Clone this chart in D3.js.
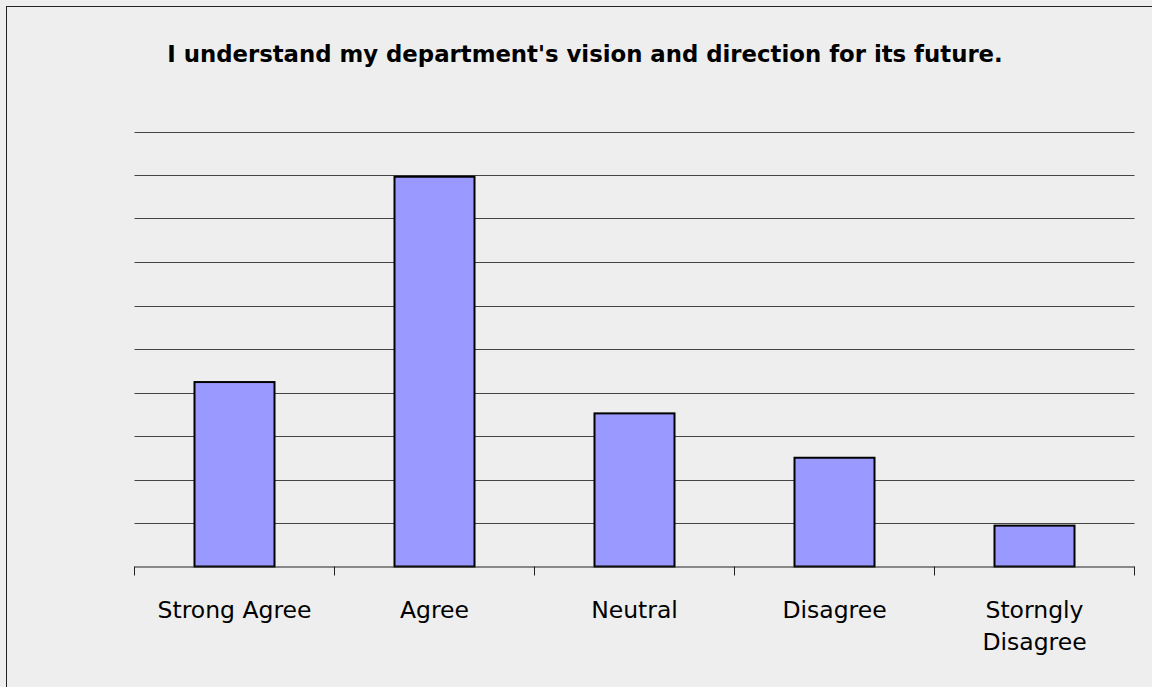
<!doctype html>
<html>
<head>
<meta charset="utf-8">
<title>Department vision</title>
<script src="https://cdn.jsdelivr.net/npm/d3@7"></script>
<style>
  html, body { margin: 0; padding: 0; background: #eeeeee; }
  svg { display: block; }
  text { font-family: "DejaVu Sans", Verdana, sans-serif; fill: #000; }
</style>
</head>
<body>
<div id="chart"></div>
<script>
  // survey answers (percent of responses)
  const categories = ['Strong Agree', 'Agree', 'Neutral', 'Disagree', 'Storngly Disagree'];
  const values = [21.2, 44.8, 17.6, 12.5, 4.7];
  const yTicks = [0, 5, 10, 15, 20, 25, 30, 35, 40, 45, 50];
  const title = "I understand my department's vision and direction for its future.";

  const width = 1152, height = 687;
  const plot = {left: 134.5, right: 1134.5, top: 131.5, bottom: 566.5};

  const svg = d3.select('#chart').append('svg')
    .attr('width', width)
    .attr('height', height);

  // outer frame, runs off the right and bottom edges
  svg.append('rect')
    .attr('x', 6.5).attr('y', 6.5)
    .attr('width', width + 10).attr('height', height + 10)
    .attr('fill', '#eeeeee')
    .attr('stroke', '#222')
    .attr('stroke-width', 1);

  svg.append('text')
    .attr('x', 585)
    .attr('y', 62)
    .attr('text-anchor', 'middle')
    .style('font-weight', 'bold')
    .style('font-size', '22.8px')
    .text(title);

  const x = d3.scaleBand()
    .domain(categories)
    .range([plot.left, plot.right])
    .paddingInner(0.6)
    .paddingOuter(0.3);

  const y = d3.scaleLinear()
    .domain([0, 50])
    .range([plot.bottom, plot.top]);

  // gridlines
  svg.append('g')
    .selectAll('line')
    .data(yTicks.slice(1))
    .join('line')
    .attr('x1', plot.left).attr('x2', plot.right)
    .attr('y1', d => Math.round(y(d)) + 0.5)
    .attr('y2', d => Math.round(y(d)) + 0.5)
    .attr('stroke', '#444')
    .attr('stroke-width', 1);

  // bars
  svg.append('g')
    .selectAll('rect')
    .data(values)
    .join('rect')
    .attr('x', (d, i) => x(categories[i]))
    .attr('y', d => y(d))
    .attr('width', x.bandwidth())
    .attr('height', d => y(0) - y(d))
    .attr('fill', '#9999ff')
    .attr('stroke', '#000')
    .attr('stroke-width', 2);

  // x axis line and ticks between categories
  const step = x.step();
  const axis = svg.append('g');
  axis.append('line')
    .attr('x1', plot.left).attr('x2', plot.right)
    .attr('y1', plot.bottom + 0.5).attr('y2', plot.bottom + 0.5)
    .attr('stroke', '#222');
  axis.selectAll('line.tick')
    .data(d3.range(categories.length + 1))
    .join('line')
    .attr('class', 'tick')
    .attr('x1', i => plot.left + i * step)
    .attr('x2', i => plot.left + i * step)
    .attr('y1', plot.bottom)
    .attr('y2', plot.bottom + 9)
    .attr('stroke', '#222');

  // category labels, wrapped the same way as the original
  const labelLines = {'Storngly Disagree': ['Storngly', 'Disagree']};
  svg.append('g')
    .selectAll('text')
    .data(categories)
    .join('text')
    .attr('text-anchor', 'middle')
    .style('font-size', '23.5px')
    .each(function (d) {
      const lines = labelLines[d] || [d];
      const cx = x(d) + x.bandwidth() / 2;
      d3.select(this).selectAll('tspan')
        .data(lines)
        .join('tspan')
        .attr('x', cx)
        .attr('y', (l, j) => 618 + j * 32)
        .text(l => l);
    });
</script>
</body>
</html>
